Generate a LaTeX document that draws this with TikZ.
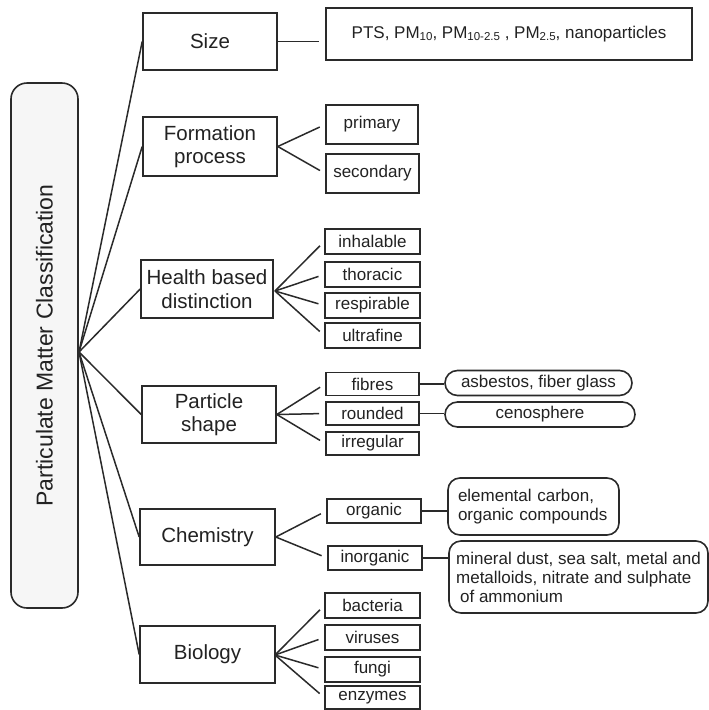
\documentclass[tikz,border=0pt]{standalone}
\usepackage{fontspec}
\setmainfont{Liberation Sans}
\usetikzlibrary{shapes.misc}
\definecolor{ln}{HTML}{2A2A2A}
\definecolor{rootfill}{HTML}{F6F6F6}
\definecolor{txt}{HTML}{222222}
\newcommand\pmsub[1]{\raisebox{-2pt}{\fontsize{11.5}{12}\selectfont #1}}
\begin{document}
\begin{tikzpicture}[x=1pt,y=-1pt,
  box/.style={draw=ln, line width=1.6pt, fill=white, inner sep=0pt, align=center, text=txt},
  cat/.style={box, minimum width=134pt, minimum height=57pt, font=\fontsize{20.5}{23.5}\selectfont},
  sub/.style={box, minimum width=94pt, minimum height=24pt, font=\fontsize{17}{19}\selectfont},
  leaf/.style={box, font=\fontsize{17}{19}\selectfont},
  pill/.style={leaf, rounded rectangle, minimum height=25pt},
  link/.style={draw=ln, line width=1.5pt},
  gap/.style={link, shorten >=6pt}]
\useasboundingbox (0,0) rectangle (709,710);

% root
\node[box, rounded corners=16pt, fill=rootfill, minimum width=67pt, minimum height=525pt,
      font=\fontsize{23}{27}\selectfont] (root) at (44.5,345.5)
      {\rotatebox{90}{Particulate Matter Classification}};
\coordinate (fan) at (79,352);

% categories
\node[cat] (size) at (210,41.5) {Size};
\node[cat, minimum height=59pt] (formation) at (210,146.5) {Formation\\process};
\node[cat, minimum width=132pt, minimum height=58pt] (health) at (207,289) {Health based\\distinction};
\node[cat] (particle) at (209,414.5) {Particle\\shape};
\node[cat, minimum width=135pt, minimum height=56pt] (chem) at (207.5,537) {Chemistry};
\node[cat, minimum width=135pt] (bio) at (207.5,654.5) {Biology};

\foreach \c in {size,formation,health,particle,chem,bio}
  \draw[link] (fan) -- (\c.west);

% size
\node[leaf, minimum width=366pt, minimum height=52pt] (pts) at (509,34)
  {PTS, PM\pmsub{10}, PM\pmsub{10-2.5} , PM\pmsub{2.5}, nanoparticles};
\draw[gap] (size.east) -- (size.east -| pts.west);

% formation
\node[sub, minimum width=92pt, minimum height=39pt] (primary) at (372,124.5) {primary};
\node[sub, minimum width=93pt, minimum height=39pt] (secondary) at (372.5,173.5) {secondary};
\draw[gap] (formation.east) -- (primary.west);
\draw[gap] (formation.east) -- (secondary.west);

% health
\node[sub, minimum width=95pt, minimum height=25pt] (inhal) at (372.5,241.5) {inhalable};
\node[sub, minimum width=95pt, minimum height=25pt] (thor) at (372.5,274.5) {thoracic};
\node[sub, minimum width=95pt, minimum height=25pt] (resp) at (372.5,305.5) {respirable};
\node[sub, minimum width=95pt, minimum height=25pt] (ultra) at (372.5,335.5) {ultrafine};
\coordinate (hfan) at (275,291);
\foreach \s in {inhal,thor,resp,ultra}
  \draw[gap] (hfan) -- (\s.west);

% particle shape
\node[sub, minimum width=93pt, minimum height=23pt] (fibres) at (372.5,384) {fibres};
\node[sub, minimum width=93pt, minimum height=23pt] (rounded) at (372.5,413.5) {rounded};
\node[sub, minimum width=93pt, minimum height=23pt] (irreg) at (372.5,443.5) {irregular};
\foreach \s in {fibres,rounded,irreg}
  \draw[gap] (particle.east) -- (\s.west);
\node[pill, minimum width=187pt] (asb) at (538.5,383) {asbestos, fiber glass};
\node[pill, minimum width=190pt] (ceno) at (540,414.5) {cenosphere};
\draw[link] (fibres.east) -- (fibres.east -| asb.west);
\draw[link] (rounded.east) -- (rounded.east -| ceno.west);

% chemistry
\node[sub] (org) at (374,511) {organic};
\node[sub] (inorg) at (375,558) {inorganic};
\draw[gap] (chem.east) -- (org.west);
\draw[gap] (chem.east) -- (inorg.west);
\node[leaf, rounded corners=12pt, align=left, minimum width=171pt, minimum height=57pt,
      text width=151pt] (elem) at (533.5,506.5) {elemental carbon,\\organic compounds};
\node[leaf, rounded corners=12pt, align=left, minimum width=259pt, minimum height=72pt]
      (mineral) at (578.5,577)
      {mineral dust, sea salt, metal and\\metalloids, nitrate and sulphate\\\hspace*{4pt}of ammonium};
\draw[link] (org.east) -- (org.east -| elem.west);
\draw[link] (inorg.east) -- (inorg.east -| mineral.west);

% biology
\node[sub, minimum width=95pt, minimum height=25pt] (bact) at (372.5,605.5) {bacteria};
\node[sub, minimum width=95pt, minimum height=25pt] (vir) at (372.5,637.5) {viruses};
\node[sub, minimum width=95pt, minimum height=25pt] (fungi) at (372.5,669.5) {fungi};
\node[sub, minimum width=95pt, minimum height=23pt] (enz) at (372.5,697.5) {enzymes};
\coordinate (bfan) at (275,655);
\foreach \s in {bact,vir,fungi,enz}
  \draw[gap] (bfan) -- (\s.west);
\end{tikzpicture}
\end{document}
